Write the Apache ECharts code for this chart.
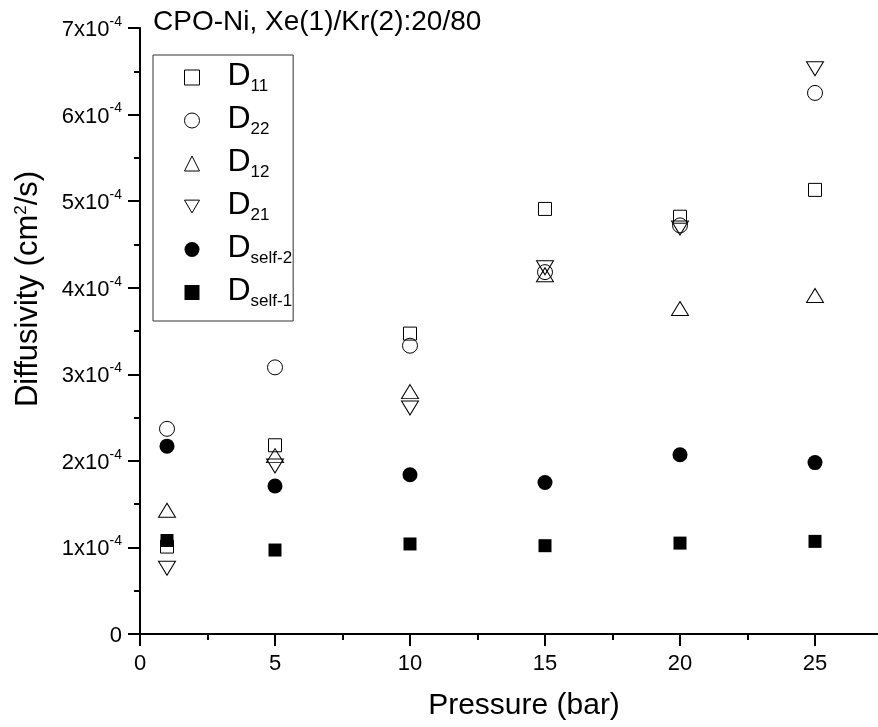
<!DOCTYPE html>
<html>
<head>
<meta charset="utf-8">
<title>CPO-Ni Xe/Kr diffusivities</title>
<script src="https://cdn.jsdelivr.net/npm/echarts@6/dist/echarts.min.js"></script>
<style>
  html, body { margin: 0; padding: 0; background: #fff; }
  #chart { width: 878px; height: 727px; }
</style>
</head>
<body>
<div id="chart"></div>
<script>
// Pressure points (bar)
const pressure = [1, 5, 10, 15, 20, 25];

// Diffusivities (cm^2/s)
const D11    = [1.01e-4, 2.18e-4, 3.47e-4, 4.91e-4, 4.82e-4, 5.13e-4];
const D22    = [2.37e-4, 3.08e-4, 3.33e-4, 4.18e-4, 4.72e-4, 6.25e-4];
const D12    = [1.43e-4, 2.06e-4, 2.80e-4, 4.15e-4, 3.76e-4, 3.91e-4];
const D21    = [0.76e-4, 1.94e-4, 2.61e-4, 4.23e-4, 4.69e-4, 6.53e-4];
const Dself2 = [2.17e-4, 1.71e-4, 1.84e-4, 1.75e-4, 2.07e-4, 1.98e-4];
const Dself1 = [1.08e-4, 0.97e-4, 1.04e-4, 1.02e-4, 1.05e-4, 1.07e-4];

// Axis ticks
const xTicks = [0, 5, 10, 15, 20, 25];
const yTickExponent = -4;

const FONT = '"Liberation Sans", Arial, Helvetica, sans-serif';

// Downward-pointing triangle for the legend icon of D21
const DOWN_TRIANGLE = 'path://M0,0 L20,0 L10,17 Z';

function pairs(ys) {
  return pressure.map((p, i) => [p, ys[i]]);
}

const openStyle = { color: 'rgba(0,0,0,0)', borderColor: '#000', borderWidth: 1, opacity: 1 };
const solidStyle = { color: '#000', borderWidth: 0, opacity: 1 };

const seriesDefs = [
  { name: 'D11',     data: D11,    symbol: 'rect',     size: 13,       rotate: 0,   icon: 'rect',        style: openStyle },
  { name: 'D22',     data: D22,    symbol: 'circle',   size: 15,       rotate: 0,   icon: 'circle',      style: openStyle },
  { name: 'D12',     data: D12,    symbol: 'triangle', size: [17, 14], rotate: 0,   icon: 'triangle',    style: openStyle },
  { name: 'D21',     data: D21,    symbol: 'triangle', size: [17, 14], rotate: 180, icon: DOWN_TRIANGLE, style: openStyle },
  { name: 'Dself-2', data: Dself2, symbol: 'circle',   size: 15,       rotate: 0,   icon: 'circle',      style: solidStyle },
  { name: 'Dself-1', data: Dself1, symbol: 'rect',     size: 13,       rotate: 0,   icon: 'rect',        style: solidStyle }
];

const chart = echarts.init(document.getElementById('chart'), null, { renderer: 'canvas' });

chart.setOption({
  animation: false,
  backgroundColor: '#fff',
  textStyle: { fontFamily: FONT, color: '#000' },
  title: {
    text: 'CPO-Ni, Xe(1)/Kr(2):20/80',
    left: 148,
    top: 3,
    textStyle: { fontFamily: FONT, fontSize: 28, fontWeight: 'normal', color: '#000' }
  },
  // x range 0..30 spans 810px, so the axis runs past the right edge of the canvas
  grid: { left: 140, width: 810, top: 28, bottom: 93, containLabel: false, outerBoundsMode: 'none' },
  legend: {
    orient: 'vertical',
    left: 153,
    top: 55,
    padding: [5, 1, 11, 31],
    itemGap: 8,
    itemWidth: 15,
    itemHeight: 15,
    symbolKeepAspect: true,
    borderColor: '#333',
    borderWidth: 1,
    selectedMode: false,
    data: seriesDefs.map(s => ({ name: s.name, icon: s.icon, itemStyle: s.style })),
    formatter: name => '{d|D}{s|' + name.slice(1) + '}',
    textStyle: {
      fontFamily: FONT,
      color: '#000',
      rich: {
        d: { fontFamily: FONT, fontSize: 32, padding: [0, 0, 3, 23], verticalAlign: 'bottom', color: '#000' },
        s: { fontFamily: FONT, fontSize: 17, verticalAlign: 'bottom', color: '#000' }
      }
    }
  },
  xAxis: {
    type: 'value',
    min: 0,
    max: 30,
    interval: 5,
    name: 'Pressure (bar)',
    nameLocation: 'middle',
    nameGap: 57,
    nameTextStyle: { fontFamily: FONT, fontSize: 30, color: '#000', padding: [0, 42, 0, 0] },
    axisLine: { show: true, onZero: false, lineStyle: { color: '#000', width: 2 } },
    axisTick: { show: true, length: 12, lineStyle: { color: '#000', width: 2 } },
    minorTick: { show: true, splitNumber: 2, length: 6, lineStyle: { color: '#000', width: 2 } },
    splitLine: { show: false },
    minorSplitLine: { show: false },
    axisLabel: {
      margin: 19,
      fontFamily: FONT,
      fontSize: 22,
      color: '#000',
      formatter: v => (xTicks.indexOf(v) >= 0 ? String(v) : '')
    }
  },
  yAxis: {
    type: 'value',
    min: 0,
    max: 7e-4,
    interval: 1e-4,
    name: 'Diffusivity (cm{sup|2}/s)',
    nameLocation: 'middle',
    nameGap: 96,
    nameTextStyle: {
      fontFamily: FONT,
      fontSize: 31,
      color: '#000',
      padding: [0, 0, 0, 84],
      rich: {
        sup: { fontFamily: FONT, fontSize: 17, verticalAlign: 'top', color: '#000' }
      }
    },
    axisLine: { show: true, onZero: false, lineStyle: { color: '#000', width: 2 } },
    axisTick: { show: true, length: 12, lineStyle: { color: '#000', width: 2 } },
    minorTick: { show: true, splitNumber: 2, length: 6, lineStyle: { color: '#000', width: 2 } },
    splitLine: { show: false },
    minorSplitLine: { show: false },
    axisLabel: {
      margin: 18,
      fontFamily: FONT,
      color: '#000',
      formatter: v => {
        const n = Math.round(v / Math.pow(10, yTickExponent));
        if (n === 0) return '{m|0}';
        return '{m|' + n + 'x10}{e|' + yTickExponent + '}';
      },
      rich: {
        m: { fontFamily: FONT, fontSize: 22, lineHeight: 26, verticalAlign: 'bottom', color: '#000' },
        e: { fontFamily: FONT, fontSize: 14, lineHeight: 14, verticalAlign: 'top', color: '#000' }
      }
    }
  },
  series: seriesDefs.map(s => ({
    name: s.name,
    type: 'scatter',
    data: pairs(s.data),
    symbol: s.symbol,
    symbolSize: s.size,
    symbolRotate: s.rotate,
    itemStyle: s.style,
    emphasis: { disabled: true }
  }))
});
</script>
</body>
</html>
